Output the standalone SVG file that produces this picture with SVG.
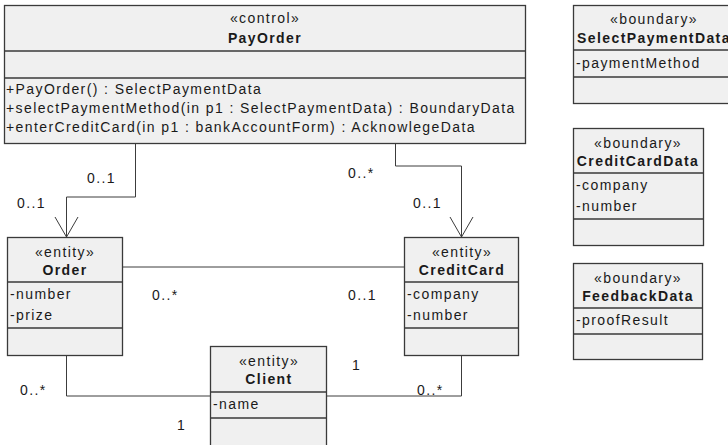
<svg xmlns="http://www.w3.org/2000/svg" width="728" height="445" viewBox="0 0 728 445">
  <style>
    text { font-family: "Liberation Sans", Arial, sans-serif; font-size: 14px; letter-spacing: 1.4px; fill: #1a1a1a; }
    .c { text-anchor: middle; }
    .b { font-weight: bold; }
    .box { fill: #f0f0f0; stroke: #3a3a3a; stroke-width: 1.3; }
    .sep { stroke: #3a3a3a; stroke-width: 1.3; }
    .edge { fill: none; stroke: #3c3c3c; stroke-width: 1; }
  </style>
  <rect width="728" height="445" fill="#ffffff"/>

  <!-- associations -->
  <g id="connectors">
    <polyline class="edge" points="135.5,143 135.5,197 66.5,197 66.5,237"/>
    <polyline class="edge" points="55,217 66.5,237 78,217"/>
    <polyline class="edge" points="395.5,143 395.5,166 461.5,166 461.5,237"/>
    <polyline class="edge" points="450,217 461.5,237 473,217"/>
    <line class="edge" x1="123" y1="267" x2="404" y2="267"/>
    <polyline class="edge" points="66.5,355 66.5,396 210,396"/>
    <polyline class="edge" points="326,396 461.5,396 461.5,355"/>
    <text x="87" y="183">0..1</text>
    <text x="17" y="208">0..1</text>
    <text x="348" y="178">0..*</text>
    <text x="413" y="208">0..1</text>
    <text x="152" y="300">0..*</text>
    <text x="348" y="300">0..1</text>
    <text x="20" y="395">0..*</text>
    <text x="177" y="430">1</text>
    <text x="352" y="370">1</text>
    <text x="417" y="395">0..*</text>
  </g>

  <!-- control class -->
  <g id="PayOrder">
    <rect class="box" x="4.5" y="5.5" width="521" height="138"/>
    <line class="sep" x1="4.5" y1="51" x2="525.5" y2="51"/>
    <line class="sep" x1="4.5" y1="78" x2="525.5" y2="78"/>
    <text class="c" x="265" y="23">«control»</text>
    <text class="c b" x="265" y="43">PayOrder</text>
    <text x="6" y="94">+PayOrder() : SelectPaymentData</text>
    <text x="6" y="113">+selectPaymentMethod(in p1 : SelectPaymentData) : BoundaryData</text>
    <text x="6" y="132">+enterCreditCard(in p1 : bankAccountForm) : AcknowlegeData</text>
  </g>

  <!-- entity classes -->
  <g id="Order">
    <rect class="box" x="7.5" y="237.5" width="115" height="118"/>
    <line class="sep" x1="7.5" y1="282" x2="122.5" y2="282"/>
    <line class="sep" x1="7.5" y1="328" x2="122.5" y2="328"/>
    <text class="c" x="65" y="257">«entity»</text>
    <text class="c b" x="65" y="275">Order</text>
    <text x="10" y="299">-number</text>
    <text x="10" y="320">-prize</text>
  </g>

  <g id="CreditCard">
    <rect class="box" x="404.5" y="237.5" width="114" height="118"/>
    <line class="sep" x1="404.5" y1="282" x2="518.5" y2="282"/>
    <line class="sep" x1="404.5" y1="328" x2="518.5" y2="328"/>
    <text class="c" x="462" y="257">«entity»</text>
    <text class="c b" x="462" y="275">CreditCard</text>
    <text x="407" y="299">-company</text>
    <text x="407" y="320">-number</text>
  </g>

  <g id="Client">
    <rect class="box" x="210.5" y="346.5" width="116" height="104"/>
    <line class="sep" x1="210.5" y1="392" x2="326.5" y2="392"/>
    <line class="sep" x1="210.5" y1="418" x2="326.5" y2="418"/>
    <text class="c" x="269" y="366">«entity»</text>
    <text class="c b" x="269" y="384">Client</text>
    <text x="213" y="409">-name</text>
  </g>

  <!-- boundary classes -->
  <g id="SelectPaymentData">
    <rect class="box" x="573.5" y="5.5" width="162" height="98"/>
    <line class="sep" x1="573.5" y1="50" x2="735.5" y2="50"/>
    <line class="sep" x1="573.5" y1="77" x2="735.5" y2="77"/>
    <text class="c" x="654" y="24">«boundary»</text>
    <text class="c b" x="654" y="43">SelectPaymentData</text>
    <text x="576" y="68">-paymentMethod</text>
  </g>

  <g id="CreditCardData">
    <rect class="box" x="573.5" y="128.5" width="130" height="117"/>
    <line class="sep" x1="573.5" y1="173" x2="703.5" y2="173"/>
    <line class="sep" x1="573.5" y1="219" x2="703.5" y2="219"/>
    <text class="c" x="638" y="148">«boundary»</text>
    <text class="c b" x="638" y="166">CreditCardData</text>
    <text x="576" y="190">-company</text>
    <text x="576" y="211">-number</text>
  </g>

  <g id="FeedbackData">
    <rect class="box" x="573.5" y="263.5" width="129" height="96"/>
    <line class="sep" x1="573.5" y1="308" x2="702.5" y2="308"/>
    <line class="sep" x1="573.5" y1="334" x2="702.5" y2="334"/>
    <text class="c" x="638" y="283">«boundary»</text>
    <text class="c b" x="638" y="301">FeedbackData</text>
    <text x="576" y="325">-proofResult</text>
  </g>
</svg>
